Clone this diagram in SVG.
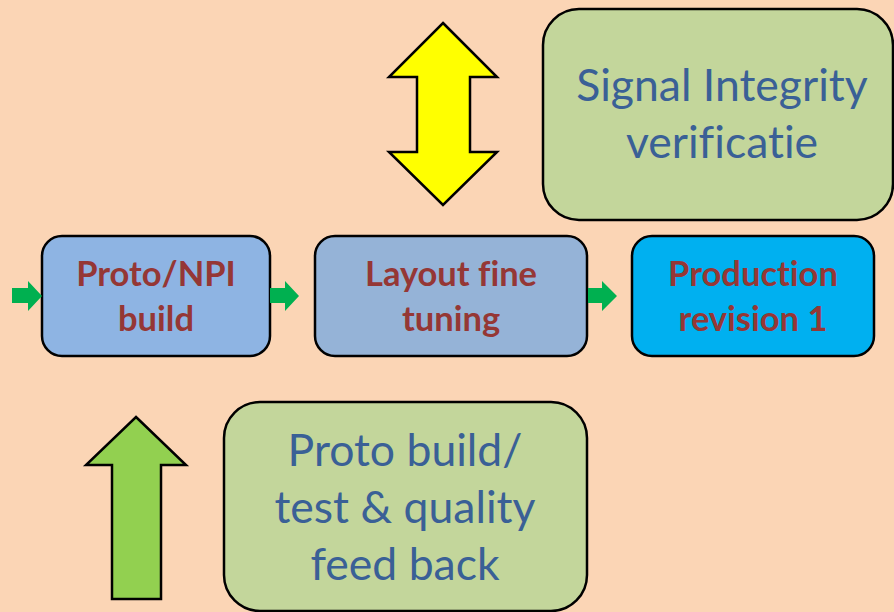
<svg xmlns="http://www.w3.org/2000/svg" width="894" height="612" viewBox="0 0 894 612">
<style>
.box{stroke:#000;stroke-width:2.5}
text{font-variant-ligatures:none;font-feature-settings:"liga" 0,"clig" 0}
.bold{font-family:Lato,"Open Sans","Liberation Sans",sans-serif;font-weight:bold;font-size:34.5px;fill:#953735;text-anchor:middle}
.reg{font-family:Lato,"Open Sans","Liberation Sans",sans-serif;font-size:44.5px;fill:#3A6096;text-anchor:middle}
.small{fill:#00B050}
.big{stroke:#000;stroke-width:2.5;stroke-linejoin:miter}
</style>
<rect width="894" height="612" fill="#FBD5B5"/>
<g id="signal-integrity">
<rect class="box" x="543" y="9" width="350" height="211" rx="36" fill="#C3D69B"/>
<text class="reg" x="722" y="101">Signal Integrity</text>
<text class="reg" x="722" y="158">verificatie</text>
</g>
<g id="feedback">
<rect class="box" x="224" y="402" width="363" height="209" rx="36" fill="#C3D69B"/>
<text class="reg" x="405" y="466">Proto build/</text>
<text class="reg" x="405" y="523">test &amp; quality</text>
<text class="reg" x="405" y="580">feed back</text>
</g>
<g id="proto-npi">
<rect class="box" x="42" y="236" width="228" height="120" rx="20" fill="#8EB4E3"/>
<text class="bold" x="156" y="286">Proto/NPI</text>
<text class="bold" x="156" y="331">build</text>
</g>
<g id="layout">
<rect class="box" x="315" y="236" width="272" height="120" rx="20" fill="#95B3D7"/>
<text class="bold" x="451" y="286">Layout fine</text>
<text class="bold" x="451" y="331">tuning</text>
</g>
<g id="production">
<rect class="box" x="632" y="236" width="242" height="120" rx="20" fill="#00B0F0"/>
<text class="bold" x="753" y="286">Production</text>
<text class="bold" x="753" y="331">revision 1</text>
</g>
<g id="connectors">
<polygon class="small" points="12,288 28,288 28,281 42,296 28,311 28,303 12,303"/>
<polygon class="small" points="270,288 285,288 285,281 299,296 285,311 285,303 270,303"/>
<polygon class="small" points="588,288 602,288 602,281 617,296 602,311 602,303 588,303"/>
<polygon class="big" fill="#FFFF00" points="443,23 497,77 470,77 470,152 497,152 443,205 389,152 417,152 417,77 389,77"/>
<polygon class="big" fill="#92D050" points="136,417 186,465 161,465 161,599 112,599 112,465 86,465"/>
</g>
</svg>
